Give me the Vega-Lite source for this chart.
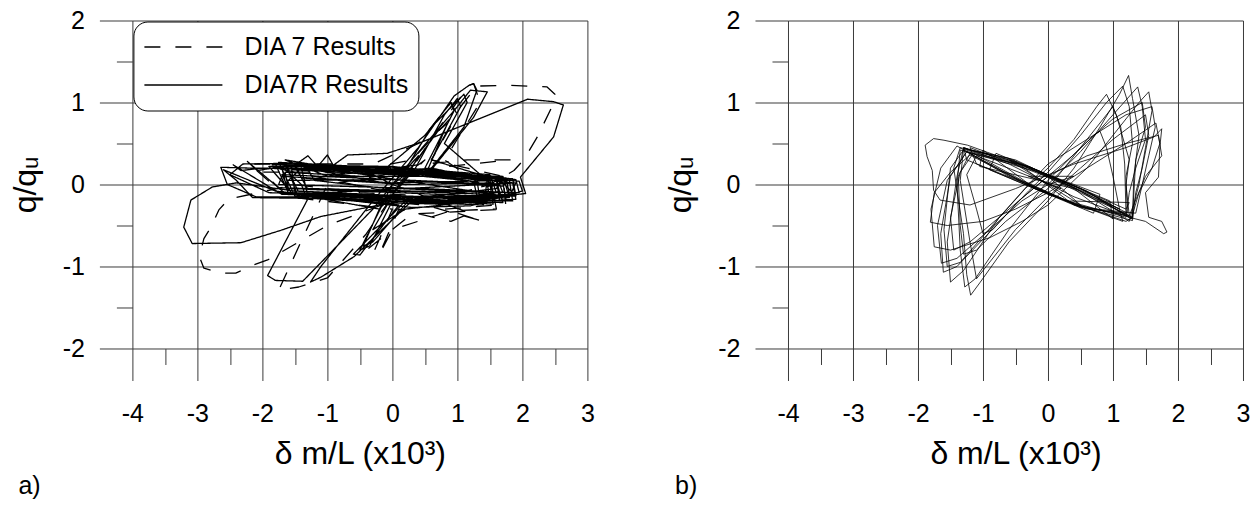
{
  "$schema": "https://vega.github.io/schema/vega-lite/v6.json",
  "background": "white",
  "padding": {"left": 9.4, "top": 8.5, "right": 0, "bottom": 0},
  "bounds": "flush",
  "spacing": 200.6,
  "config": {
    "font": "Liberation Sans",
    "view": {"stroke": null},
    "axis": {"domain": false, "gridColor": "#3a3a3a", "gridOpacity": 1, "gridWidth": 1, "tickColor": "#3a3a3a", "tickWidth": 1, "labelColor": "black", "labelFontSize": 25, "labelFont": "Liberation Sans", "titleFont": "Liberation Sans", "titleFontSize": 32, "titleFontWeight": "normal", "titleColor": "black", "labelOverlap": false, "labelFlush": false},
    "title": {"fontSize": 25, "fontWeight": "normal", "color": "black", "font": "Liberation Sans"}
  },
  "datasets": {
    "a": [
      {"s":"R","i":1,"x":0,"y":0},{"s":"R","i":2,"x":0.4,"y":0.35},{"s":"R","i":3,"x":0.2,"y":0.05},{"s":"R","i":4,"x":-0.2,"y":-0.3},{"s":"R","i":5,"x":0,"y":0},
      {"s":"R","i":6,"x":-1.35,"y":0.2},{"s":"R","i":7,"x":0.2,"y":0.12},{"s":"R","i":8,"x":1.25,"y":0.04},{"s":"R","i":9,"x":1.3,"y":-0.14},{"s":"R","i":10,"x":0.1,"y":-0.1},{"s":"R","i":11,"x":-1.3,"y":-0.06},
      {"s":"R","i":12,"x":-1.5,"y":0.22},{"s":"R","i":13,"x":0,"y":0.15},{"s":"R","i":14,"x":1.45,"y":0.05},{"s":"R","i":15,"x":1.5,"y":-0.18},{"s":"R","i":16,"x":0.2,"y":-0.14},{"s":"R","i":17,"x":-1.45,"y":-0.08},
      {"s":"R","i":18,"x":-1.65,"y":0.24},{"s":"R","i":19,"x":-0.2,"y":0.17},{"s":"R","i":20,"x":0.3,"y":0.12},{"s":"R","i":21,"x":0.8,"y":0.85},{"s":"R","i":22,"x":1.0,"y":1.05},{"s":"R","i":23,"x":1.05,"y":0.95},{"s":"R","i":24,"x":0.6,"y":0.3},{"s":"R","i":25,"x":1.6,"y":0.06},{"s":"R","i":26,"x":1.65,"y":-0.2},{"s":"R","i":27,"x":0.3,"y":-0.15},{"s":"R","i":28,"x":-0.3,"y":-0.7},{"s":"R","i":29,"x":-0.45,"y":-0.75},{"s":"R","i":30,"x":-0.2,"y":-0.3},{"s":"R","i":31,"x":-1.6,"y":-0.1},
      {"s":"R","i":32,"x":-1.8,"y":0.25},{"s":"R","i":33,"x":0.3,"y":0.14},{"s":"R","i":34,"x":1.75,"y":0.08},{"s":"R","i":35,"x":1.8,"y":-0.12},{"s":"R","i":36,"x":0.4,"y":-0.16},{"s":"R","i":37,"x":-1.7,"y":-0.12},
      {"s":"R","i":38,"x":-2.45,"y":0.24},{"s":"R","i":39,"x":-2.33,"y":0.17},{"s":"R","i":40,"x":-2.0,"y":0.2},{"s":"R","i":41,"x":0.5,"y":0.14},{"s":"R","i":42,"x":1.85,"y":0.07},{"s":"R","i":43,"x":1.9,"y":-0.14},{"s":"R","i":44,"x":0,"y":-0.15},{"s":"R","i":45,"x":-2.1,"y":-0.15},{"s":"R","i":46,"x":-2.54,"y":0},{"s":"R","i":47,"x":-2.64,"y":0.21},{"s":"R","i":48,"x":-2.2,"y":0.2},
      {"s":"R","i":49,"x":0.2,"y":0.18},{"s":"R","i":50,"x":0.6,"y":0.7},{"s":"R","i":51,"x":1.1,"y":1.1},{"s":"R","i":52,"x":1.15,"y":1.0},{"s":"R","i":53,"x":0.8,"y":0.5},{"s":"R","i":54,"x":1.5,"y":0.02},{"s":"R","i":55,"x":1.55,"y":-0.24},{"s":"R","i":56,"x":-0.1,"y":-0.16},{"s":"R","i":57,"x":-0.5,"y":-0.8},{"s":"R","i":58,"x":-0.35,"y":-0.75},{"s":"R","i":59,"x":0,"y":-0.2},{"s":"R","i":60,"x":-1.5,"y":-0.14},
      {"s":"R","i":61,"x":-1.75,"y":0.27},{"s":"R","i":62,"x":0,"y":0.2},{"s":"R","i":63,"x":1.9,"y":0.06},{"s":"R","i":64,"x":1.95,"y":-0.1},{"s":"R","i":65,"x":0.3,"y":-0.08},{"s":"R","i":66,"x":-1.75,"y":-0.04},
      {"s":"R","i":67,"x":-2.23,"y":0.28},{"s":"R","i":68,"x":-2.08,"y":0.17},{"s":"R","i":69,"x":-1.6,"y":0.23},{"s":"R","i":70,"x":0.4,"y":0.12},{"s":"R","i":71,"x":1.7,"y":0.1},{"s":"R","i":72,"x":1.8,"y":-0.16},{"s":"R","i":73,"x":0.5,"y":-0.2},{"s":"R","i":74,"x":-1.55,"y":-0.1},
      {"s":"R","i":75,"x":-1.9,"y":0.22},{"s":"R","i":76,"x":-0.1,"y":0.2},{"s":"R","i":77,"x":0.5,"y":0.6},{"s":"R","i":78,"x":0.9,"y":1.0},{"s":"R","i":79,"x":0.95,"y":0.9},{"s":"R","i":80,"x":0.5,"y":0.2},{"s":"R","i":81,"x":1.6,"y":0.04},{"s":"R","i":82,"x":1.7,"y":-0.22},{"s":"R","i":83,"x":0.2,"y":-0.2},{"s":"R","i":84,"x":-0.6,"y":-0.85},{"s":"R","i":85,"x":-0.5,"y":-0.86},{"s":"R","i":86,"x":0.1,"y":-0.25},{"s":"R","i":87,"x":-1.8,"y":-0.08},
      {"s":"R","i":88,"x":-2.6,"y":0.18},{"s":"R","i":89,"x":-2.4,"y":0.05},{"s":"R","i":90,"x":-2.15,"y":-0.16},{"s":"R","i":91,"x":-1.2,"y":-0.17},{"s":"R","i":92,"x":0.5,"y":-0.22},{"s":"R","i":93,"x":1.4,"y":-0.25},{"s":"R","i":94,"x":1.45,"y":0},{"s":"R","i":95,"x":0,"y":0.22},{"s":"R","i":96,"x":-1.85,"y":0.24},
      {"s":"R","i":97,"x":-0.9,"y":0.24},{"s":"R","i":98,"x":-0.69,"y":0.36},{"s":"R","i":99,"x":-0.08,"y":0.38},{"s":"R","i":100,"x":0.46,"y":0.52},{"s":"R","i":101,"x":2.08,"y":1.04},{"s":"R","i":102,"x":2.48,"y":1.01},{"s":"R","i":103,"x":2.63,"y":0.97},{"s":"R","i":104,"x":2.48,"y":0.58},{"s":"R","i":105,"x":2.23,"y":0.34},{"s":"R","i":106,"x":1.97,"y":0.09},{"s":"R","i":107,"x":2.05,"y":-0.11},{"s":"R","i":108,"x":1.0,"y":-0.2},{"s":"R","i":109,"x":-0.5,"y":-0.12},{"s":"R","i":110,"x":-1.5,"y":-0.08},{"s":"R","i":111,"x":-2.4,"y":0.02},{"s":"R","i":112,"x":-2.77,"y":-0.03},{"s":"R","i":113,"x":-3.1,"y":-0.19},{"s":"R","i":114,"x":-3.21,"y":-0.52},{"s":"R","i":115,"x":-3.08,"y":-0.72},{"s":"R","i":116,"x":-2.33,"y":-0.71},{"s":"R","i":117,"x":-1.72,"y":-0.56},{"s":"R","i":118,"x":-1.1,"y":-0.39},{"s":"R","i":119,"x":0,"y":-0.22},{"s":"R","i":120,"x":0.95,"y":-0.11},{"s":"R","i":121,"x":1.6,"y":-0.05},{"s":"R","i":122,"x":1.7,"y":0.08},{"s":"R","i":123,"x":0,"y":0.22},{"s":"R","i":124,"x":-1.7,"y":0.22},
      {"s":"R","i":125,"x":-1.4,"y":0},{"s":"R","i":126,"x":-1.31,"y":-0.19},{"s":"R","i":127,"x":-1.92,"y":-1.11},{"s":"R","i":128,"x":-1.8,"y":-1.17},{"s":"R","i":129,"x":-1.38,"y":-1.18},{"s":"R","i":130,"x":-1.06,"y":-0.92},{"s":"R","i":131,"x":-0.3,"y":-0.3},{"s":"R","i":132,"x":0.3,"y":0.3},{"s":"R","i":133,"x":1.0,"y":0.95},{"s":"R","i":134,"x":1.2,"y":1.15},{"s":"R","i":135,"x":1.46,"y":1.13},{"s":"R","i":136,"x":1.25,"y":0.82},{"s":"R","i":137,"x":0.59,"y":0.17},{"s":"R","i":138,"x":1.8,"y":0.05},{"s":"R","i":139,"x":1.85,"y":-0.2},{"s":"R","i":140,"x":0.3,"y":-0.2},
      {"s":"R","i":141,"x":-0.59,"y":-0.88},{"s":"R","i":142,"x":-1.1,"y":-1.13},{"s":"R","i":143,"x":-1.26,"y":-1.19},{"s":"R","i":144,"x":-1.1,"y":-1.0},{"s":"R","i":145,"x":-0.3,"y":-0.2},{"s":"R","i":146,"x":0.4,"y":0.45},{"s":"R","i":147,"x":0.95,"y":1.08},{"s":"R","i":148,"x":1.18,"y":1.21},{"s":"R","i":149,"x":1.25,"y":1.23},{"s":"R","i":150,"x":1.3,"y":1.15},{"s":"R","i":151,"x":1.1,"y":0.7},{"s":"R","i":152,"x":0.6,"y":0.2},{"s":"R","i":153,"x":1.7,"y":0.02},{"s":"R","i":154,"x":1.75,"y":-0.2},{"s":"R","i":155,"x":0,"y":-0.18},{"s":"R","i":156,"x":-1.6,"y":-0.12},
      {"s":"R","i":157,"x":-1.7,"y":0.2},{"s":"R","i":158,"x":0.3,"y":0.16},{"s":"R","i":159,"x":1.6,"y":0.1},{"s":"R","i":160,"x":1.65,"y":-0.16},{"s":"R","i":161,"x":-0.2,"y":-0.14},{"s":"R","i":162,"x":-1.5,"y":-0.1},{"s":"R","i":163,"x":-1.55,"y":0.18},{"s":"R","i":164,"x":0.5,"y":0.1},{"s":"R","i":165,"x":1.3,"y":0.06},{"s":"R","i":166,"x":1.35,"y":-0.2},{"s":"R","i":167,"x":0.2,"y":-0.3},{"s":"R","i":168,"x":-0.3,"y":-0.55},{"s":"R","i":169,"x":0.1,"y":0},{"s":"R","i":170,"x":0.7,"y":0.65},{"s":"R","i":171,"x":0.85,"y":0.75},{"s":"R","i":172,"x":0.5,"y":0.1},{"s":"R","i":173,"x":-1.0,"y":0.1},
      {"s":"R","i":174,"x":-1.65,"y":0.3},{"s":"R","i":175,"x":-1.2,"y":0.24},{"s":"R","i":176,"x":0,"y":0.16},{"s":"R","i":177,"x":1.0,"y":0.1},{"s":"R","i":178,"x":1.85,"y":0.02},{"s":"R","i":179,"x":1.9,"y":-0.18},{"s":"R","i":180,"x":1.0,"y":-0.22},{"s":"R","i":181,"x":0,"y":-0.2},{"s":"R","i":182,"x":-1.0,"y":-0.12},{"s":"R","i":183,"x":-1.9,"y":-0.1},{"s":"R","i":184,"x":-2.5,"y":0.12},{"s":"R","i":185,"x":-2.3,"y":0.25},{"s":"R","i":186,"x":-1.5,"y":0.26},{"s":"R","i":187,"x":-0.5,"y":0.22},{"s":"R","i":188,"x":0.8,"y":0.12},{"s":"R","i":189,"x":1.95,"y":0.04},{"s":"R","i":190,"x":2.0,"y":-0.08},{"s":"R","i":191,"x":1.2,"y":-0.26},{"s":"R","i":192,"x":0.3,"y":-0.28},{"s":"R","i":193,"x":-0.6,"y":-0.2},{"s":"R","i":194,"x":-1.45,"y":-0.16},{"s":"R","i":195,"x":-1.6,"y":0.18},{"s":"R","i":196,"x":-1.3,"y":0.35},{"s":"R","i":197,"x":-1.15,"y":0.22},{"s":"R","i":198,"x":-1.0,"y":0.36},{"s":"R","i":199,"x":-0.9,"y":0.22},{"s":"R","i":200,"x":0.2,"y":0.2},{"s":"R","i":201,"x":1.5,"y":0.12},{"s":"R","i":202,"x":1.6,"y":-0.1},{"s":"R","i":203,"x":0.8,"y":-0.24},{"s":"R","i":204,"x":-0.3,"y":-0.22},{"s":"R","i":205,"x":-1.3,"y":-0.14},{"s":"R","i":206,"x":-1.4,"y":0.2},
      {"s":"R","i":207,"x":-1.6,"y":0.05},{"s":"R","i":208,"x":0,"y":0.06},{"s":"R","i":209,"x":1.7,"y":-0.02},{"s":"R","i":210,"x":1.75,"y":0.05},{"s":"R","i":211,"x":0,"y":0.02},{"s":"R","i":212,"x":-1.7,"y":0.1},{"s":"R","i":213,"x":-1.75,"y":0},{"s":"R","i":214,"x":0.5,"y":-0.05},{"s":"R","i":215,"x":1.85,"y":-0.1},{"s":"R","i":216,"x":1.6,"y":0.1},{"s":"R","i":217,"x":-0.5,"y":0.1},{"s":"R","i":218,"x":-1.65,"y":0.15},{"s":"R","i":219,"x":-1.6,"y":-0.05},{"s":"R","i":220,"x":0,"y":-0.08},{"s":"R","i":221,"x":1.5,"y":-0.12},{"s":"R","i":222,"x":1.55,"y":0.02},{"s":"R","i":223,"x":0.2,"y":0},{"s":"R","i":224,"x":-1.4,"y":0.08},{"s":"R","i":225,"x":-1.5,"y":0.25},{"s":"R","i":226,"x":1.8,"y":-0.15},{"s":"R","i":227,"x":1.9,"y":0.02},{"s":"R","i":228,"x":-1.55,"y":-0.12},{"s":"R","i":229,"x":-1.7,"y":0.12},{"s":"R","i":230,"x":0.6,"y":0.04},{"s":"R","i":231,"x":1.65,"y":0},{"s":"R","i":232,"x":1.7,"y":-0.1},{"s":"R","i":233,"x":-0.2,"y":-0.04},{"s":"R","i":234,"x":-1.2,"y":0.05},{"s":"R","i":235,"x":-1.3,"y":0.18},{"s":"R","i":236,"x":-0.3,"y":0.12},{"s":"R","i":237,"x":0,"y":0},
      {"s":"D","i":1,"x":0,"y":0},{"s":"D","i":2,"x":0.5,"y":0.3},{"s":"D","i":3,"x":0,"y":-0.1},{"s":"D","i":4,"x":-1.5,"y":0.15},{"s":"D","i":5,"x":-1.9,"y":0.22},{"s":"D","i":6,"x":0,"y":0.2},{"s":"D","i":7,"x":1.5,"y":0.05},{"s":"D","i":8,"x":1.6,"y":-0.25},{"s":"D","i":9,"x":0.8,"y":-0.3},{"s":"D","i":10,"x":1.4,"y":-0.45},
      {"s":"D","i":11,"x":0.5,"y":-0.25},{"s":"D","i":12,"x":-1.7,"y":-0.1},{"s":"D","i":13,"x":-2.2,"y":0.25},{"s":"D","i":14,"x":-0.3,"y":0.25},{"s":"D","i":15,"x":0.4,"y":0.5},{"s":"D","i":16,"x":0.9,"y":1.0},{"s":"D","i":17,"x":1.0,"y":0.85},{"s":"D","i":18,"x":0.6,"y":0.3},{"s":"D","i":19,"x":1.7,"y":0.1},{"s":"D","i":20,"x":1.75,"y":-0.3},
      {"s":"D","i":21,"x":0.3,"y":-0.36},{"s":"D","i":22,"x":-0.4,"y":-0.8},{"s":"D","i":23,"x":-0.3,"y":-0.85},{"s":"D","i":24,"x":0,"y":-0.3},{"s":"D","i":25,"x":-1.6,"y":-0.15},{"s":"D","i":26,"x":-2.0,"y":0.15},{"s":"D","i":27,"x":0,"y":0.15},{"s":"D","i":28,"x":1.82,"y":0.3},{"s":"D","i":29,"x":1.15,"y":0.3},{"s":"D","i":30,"x":0.5,"y":0.25},
      {"s":"D","i":31,"x":-1.0,"y":0.1},{"s":"D","i":32,"x":0.3,"y":0.3},{"s":"D","i":33,"x":1.0,"y":0.9},{"s":"D","i":34,"x":1.3,"y":1.2},{"s":"D","i":35,"x":1.8,"y":1.21},{"s":"D","i":36,"x":2.38,"y":1.19},{"s":"D","i":37,"x":2.5,"y":1.1},{"s":"D","i":38,"x":2.48,"y":0.99},{"s":"D","i":39,"x":2.23,"y":0.58},{"s":"D","i":40,"x":2.02,"y":0.3},
      {"s":"D","i":41,"x":1.87,"y":0.17},{"s":"D","i":42,"x":1.5,"y":0},{"s":"D","i":43,"x":0.8,"y":-0.15},{"s":"D","i":44,"x":-0.5,"y":-0.1},{"s":"D","i":45,"x":-1.5,"y":0},{"s":"D","i":46,"x":-2.52,"y":-0.18},{"s":"D","i":47,"x":-2.67,"y":-0.31},{"s":"D","i":48,"x":-2.79,"y":-0.52},{"s":"D","i":49,"x":-2.9,"y":-0.66},{"s":"D","i":50,"x":-2.97,"y":-0.88},
      {"s":"D","i":51,"x":-2.9,"y":-1.02},{"s":"D","i":52,"x":-2.64,"y":-1.08},{"s":"D","i":53,"x":-2.41,"y":-1.08},{"s":"D","i":54,"x":-2.13,"y":-0.98},{"s":"D","i":55,"x":-1.92,"y":-0.92},{"s":"D","i":56,"x":-1.0,"y":-0.5},{"s":"D","i":57,"x":0,"y":-0.2},{"s":"D","i":58,"x":1.0,"y":-0.1},{"s":"D","i":59,"x":1.6,"y":0},{"s":"D","i":60,"x":0.5,"y":0.2},
      {"s":"D","i":61,"x":-1.0,"y":0},{"s":"D","i":62,"x":-1.75,"y":-1.29},{"s":"D","i":63,"x":-1.44,"y":-1.25},{"s":"D","i":64,"x":-1.0,"y":-1.14},{"s":"D","i":65,"x":-0.4,"y":-0.6},{"s":"D","i":66,"x":0.3,"y":0.2},{"s":"D","i":67,"x":0.9,"y":0.9},{"s":"D","i":68,"x":1.18,"y":1.21},{"s":"D","i":69,"x":1.25,"y":1.23},{"s":"D","i":70,"x":1.35,"y":1.0},
      {"s":"D","i":71,"x":0.8,"y":0.3},{"s":"D","i":72,"x":1.55,"y":-0.1},{"s":"D","i":73,"x":1.6,"y":-0.3},{"s":"D","i":74,"x":0.9,"y":-0.32},{"s":"D","i":75,"x":0,"y":-0.55},{"s":"D","i":76,"x":-0.2,"y":-0.85},{"s":"D","i":77,"x":0.1,"y":-0.3},{"s":"D","i":78,"x":0.9,"y":-0.45},{"s":"D","i":79,"x":1.2,"y":-0.35},{"s":"D","i":80,"x":0,"y":0}
    ],
    "b": [
      {"i":1,"x":0,"y":0},{"i":2,"x":0.4,"y":0.1},{"i":3,"x":-0.3,"y":0.1},{"i":4,"x":0.2,"y":-0.05},
      {"i":5,"x":-1.1,"y":0.35},{"i":6,"x":-1.25,"y":0.12},{"i":7,"x":-1.1,"y":-0.3},{"i":8,"x":-1.0,"y":-0.6},{"i":9,"x":-0.85,"y":-0.55},{"i":10,"x":-0.45,"y":-0.2},{"i":11,"x":0,"y":0.1},{"i":12,"x":0.45,"y":0.4},{"i":13,"x":0.7,"y":0.6},{"i":14,"x":0.8,"y":0.65},{"i":15,"x":0.9,"y":0.45},{"i":16,"x":1.0,"y":0.1},{"i":17,"x":1.1,"y":-0.3},{"i":18,"x":0.5,"y":-0.05},{"i":19,"x":-0.3,"y":0.22},
      {"i":20,"x":-1.2,"y":0.38},{"i":21,"x":-1.38,"y":0.1},{"i":22,"x":-1.35,"y":-0.5},{"i":23,"x":-1.3,"y":-0.85},{"i":24,"x":-1.1,"y":-0.8},{"i":25,"x":-0.65,"y":-0.45},{"i":26,"x":0,"y":-0.05},{"i":27,"x":0.45,"y":0.4},{"i":28,"x":0.8,"y":0.75},{"i":29,"x":1.0,"y":0.95},{"i":30,"x":1.12,"y":0.7},{"i":31,"x":1.18,"y":0.25},{"i":32,"x":1.2,"y":-0.35},{"i":33,"x":0.6,"y":-0.3},{"i":34,"x":-0.2,"y":-0.05},
      {"i":35,"x":-1.3,"y":0.42},{"i":36,"x":-1.5,"y":0.2},{"i":37,"x":-1.6,"y":-0.55},{"i":38,"x":-1.55,"y":-1.0},{"i":39,"x":-1.35,"y":-0.95},{"i":40,"x":-0.8,"y":-0.45},{"i":41,"x":-0.35,"y":-0.05},{"i":42,"x":0,"y":0.2},{"i":43,"x":0.4,"y":0.55},{"i":44,"x":0.75,"y":0.95},{"i":45,"x":0.9,"y":1.1},{"i":46,"x":1.05,"y":0.85},{"i":47,"x":1.25,"y":0.3},{"i":48,"x":1.2,"y":0},{"i":49,"x":1.25,"y":-0.38},{"i":50,"x":0.4,"y":-0.25},{"i":51,"x":-0.5,"y":0.28},
      {"i":52,"x":-1.35,"y":0.45},{"i":53,"x":-1.45,"y":0.2},{"i":54,"x":-1.3,"y":-0.6},{"i":55,"x":-1.25,"y":-1.1},{"i":56,"x":-1.19,"y":-1.35},{"i":57,"x":-1.05,"y":-1.2},{"i":58,"x":-0.6,"y":-0.7},{"i":59,"x":0,"y":-0.2},{"i":60,"x":0.4,"y":0.2},{"i":61,"x":0.8,"y":0.7},{"i":62,"x":1.1,"y":1.1},{"i":63,"x":1.24,"y":1.33},{"i":64,"x":1.3,"y":1.05},{"i":65,"x":1.4,"y":0.6},{"i":66,"x":1.32,"y":0.1},{"i":67,"x":1.3,"y":-0.42},{"i":68,"x":0.7,"y":-0.14},{"i":69,"x":-0.1,"y":0.14},
      {"i":70,"x":-1.25,"y":0.4},{"i":71,"x":-1.55,"y":0.05},{"i":72,"x":-1.7,"y":-0.5},{"i":73,"x":-1.64,"y":-0.96},{"i":74,"x":-1.4,"y":-0.9},{"i":75,"x":-0.9,"y":-0.55},{"i":76,"x":-0.4,"y":-0.2},{"i":77,"x":0,"y":0},{"i":78,"x":0.5,"y":0.4},{"i":79,"x":1.0,"y":0.85},{"i":80,"x":1.38,"y":1.19},{"i":81,"x":1.45,"y":0.95},{"i":82,"x":1.5,"y":0.55},{"i":83,"x":1.35,"y":0.2},{"i":84,"x":1.25,"y":-0.1},{"i":85,"x":1.2,"y":-0.4},{"i":86,"x":0.3,"y":-0.2},{"i":87,"x":-0.6,"y":0.1},
      {"i":88,"x":-1.4,"y":0.47},{"i":89,"x":-1.65,"y":0.2},{"i":90,"x":-1.8,"y":-0.3},{"i":91,"x":-1.75,"y":-0.76},{"i":92,"x":-1.5,"y":-0.8},{"i":93,"x":-0.9,"y":-0.65},{"i":94,"x":-0.4,"y":-0.45},{"i":95,"x":0,"y":-0.25},{"i":96,"x":0.6,"y":0.2},{"i":97,"x":1.1,"y":0.7},{"i":98,"x":1.4,"y":1.0},{"i":99,"x":1.55,"y":1.13},{"i":100,"x":1.6,"y":0.9},{"i":101,"x":1.5,"y":0.45},{"i":102,"x":1.4,"y":0},{"i":103,"x":1.25,"y":-0.45},{"i":104,"x":0.5,"y":-0.08},{"i":105,"x":-0.5,"y":0.3},
      {"i":106,"x":-1.3,"y":0.44},{"i":107,"x":-1.4,"y":0.1},{"i":108,"x":-1.55,"y":-0.7},{"i":109,"x":-1.5,"y":-1.19},{"i":110,"x":-1.3,"y":-1.05},{"i":111,"x":-0.75,"y":-0.4},{"i":112,"x":-0.3,"y":0},{"i":113,"x":0,"y":0.25},{"i":114,"x":0.6,"y":0.55},{"i":115,"x":1.2,"y":0.85},{"i":116,"x":1.6,"y":0.95},{"i":117,"x":1.65,"y":0.7},{"i":118,"x":1.55,"y":0.35},{"i":119,"x":1.45,"y":0},{"i":120,"x":1.35,"y":-0.35},{"i":121,"x":0.5,"y":-0.28},{"i":122,"x":-0.4,"y":0.03},
      {"i":123,"x":-1.2,"y":0.36},{"i":124,"x":-1.5,"y":0.15},{"i":125,"x":-1.75,"y":-0.1},{"i":126,"x":-1.81,"y":-0.46},{"i":127,"x":-1.55,"y":-0.5},{"i":128,"x":-1.0,"y":-0.45},{"i":129,"x":-0.5,"y":-0.3},{"i":130,"x":0,"y":-0.1},{"i":131,"x":0.6,"y":0.2},{"i":132,"x":1.2,"y":0.5},{"i":133,"x":1.66,"y":0.75},{"i":134,"x":1.72,"y":0.5},{"i":135,"x":1.6,"y":0.2},{"i":136,"x":1.4,"y":-0.1},{"i":137,"x":1.28,"y":-0.42},{"i":138,"x":0.6,"y":-0.08},{"i":139,"x":-0.3,"y":0.22},
      {"i":140,"x":-1.35,"y":0.42},{"i":141,"x":-1.4,"y":0},{"i":142,"x":-1.35,"y":-0.8},{"i":143,"x":-1.28,"y":-1.25},{"i":144,"x":-1.12,"y":-1.15},{"i":145,"x":-0.6,"y":-0.55},{"i":146,"x":0,"y":0.05},{"i":147,"x":0.5,"y":0.45},{"i":148,"x":1.0,"y":0.8},{"i":149,"x":1.45,"y":1.0},{"i":150,"x":1.5,"y":0.7},{"i":151,"x":1.35,"y":0.3},{"i":152,"x":1.3,"y":-0.4},{"i":153,"x":0.4,"y":-0.24},{"i":154,"x":-0.5,"y":0.08},
      {"i":155,"x":-1.25,"y":0.4},{"i":156,"x":-1.5,"y":0.1},{"i":157,"x":-1.65,"y":-0.6},{"i":158,"x":-1.61,"y":-1.07},{"i":159,"x":-1.4,"y":-1.0},{"i":160,"x":-0.8,"y":-0.5},{"i":161,"x":-0.3,"y":-0.08},{"i":162,"x":0,"y":0.15},{"i":163,"x":0.5,"y":0.6},{"i":164,"x":0.9,"y":1.0},{"i":165,"x":1.15,"y":1.2},{"i":166,"x":1.25,"y":0.95},{"i":167,"x":1.3,"y":0.5},{"i":168,"x":1.2,"y":0.1},{"i":169,"x":1.22,"y":-0.35},{"i":170,"x":0.5,"y":-0.05},{"i":171,"x":-0.3,"y":0.2},
      {"i":172,"x":-1.3,"y":0.43},{"i":173,"x":-1.35,"y":0.05},{"i":174,"x":-1.2,"y":-0.7},{"i":175,"x":-1.1,"y":-1.15},{"i":176,"x":-0.95,"y":-1.0},{"i":177,"x":-0.5,"y":-0.55},{"i":178,"x":0,"y":-0.15},{"i":179,"x":0.5,"y":0.2},{"i":180,"x":1.0,"y":0.55},{"i":181,"x":1.5,"y":0.85},{"i":182,"x":1.55,"y":0.6},{"i":183,"x":1.45,"y":0.2},{"i":184,"x":1.35,"y":-0.1},{"i":185,"x":1.3,"y":-0.44},{"i":186,"x":0.5,"y":-0.27},{"i":187,"x":-0.4,"y":0.05},
      {"i":188,"x":-1.15,"y":0.38},{"i":189,"x":-1.35,"y":0.15},{"i":190,"x":-1.5,"y":-0.4},{"i":191,"x":-1.45,"y":-0.8},{"i":192,"x":-1.2,"y":-0.7},{"i":193,"x":-0.6,"y":-0.3},{"i":194,"x":0,"y":0.1},{"i":195,"x":0.6,"y":0.35},{"i":196,"x":1.2,"y":0.5},{"i":197,"x":1.7,"y":0.6},{"i":198,"x":1.75,"y":0.35},{"i":199,"x":1.5,"y":0.1},{"i":200,"x":1.25,"y":-0.38},{"i":201,"x":0.4,"y":-0.04},{"i":202,"x":-0.5,"y":0.27},
      {"i":203,"x":-1.24,"y":0.48},{"i":204,"x":-1.6,"y":0.54},{"i":205,"x":-1.76,"y":0.56},{"i":206,"x":-1.89,"y":0.48},{"i":207,"x":-1.86,"y":0.34},{"i":208,"x":-1.78,"y":0.17},{"i":209,"x":-1.76,"y":-0.07},{"i":210,"x":-1.66,"y":-0.19},{"i":211,"x":-1.2,"y":-0.25},{"i":212,"x":-0.5,"y":-0.05},{"i":213,"x":0.4,"y":0.25},{"i":214,"x":1.2,"y":0.45},{"i":215,"x":1.63,"y":0.58},{"i":216,"x":1.75,"y":0.68},{"i":217,"x":1.72,"y":0.45},{"i":218,"x":1.7,"y":0.09},{"i":219,"x":1.5,"y":-0.1},{"i":220,"x":1.55,"y":-0.4},{"i":221,"x":1.75,"y":-0.45},{"i":222,"x":1.83,"y":-0.58},{"i":223,"x":1.78,"y":-0.6},{"i":224,"x":1.5,"y":-0.45},{"i":225,"x":1.25,"y":-0.4},{"i":226,"x":0.4,"y":-0.15},{"i":227,"x":-0.6,"y":0.25},{"i":228,"x":-1.3,"y":0.45},
      {"i":229,"x":-1.2,"y":0.42},{"i":230,"x":-0.6,"y":0.32},{"i":231,"x":0.2,"y":0.05},{"i":232,"x":1.2,"y":-0.3},{"i":233,"x":1.25,"y":-0.22},{"i":234,"x":0.3,"y":-0.2},{"i":235,"x":-0.5,"y":0.06},{"i":236,"x":-1.25,"y":0.3},{"i":237,"x":-1.3,"y":0.45},{"i":238,"x":-0.4,"y":0.24},{"i":239,"x":0.5,"y":-0.1},{"i":240,"x":1.3,"y":-0.4},{"i":241,"x":1.2,"y":-0.45},{"i":242,"x":0,"y":-0.12},{"i":243,"x":-1.1,"y":0.25},{"i":244,"x":-1.2,"y":0.45},{"i":245,"x":0.1,"y":0.06},{"i":246,"x":1.1,"y":-0.3},{"i":247,"x":1.15,"y":-0.45},{"i":248,"x":-0.2,"y":-0.05},{"i":249,"x":-1.0,"y":0.42},{"i":250,"x":-1.05,"y":0.22},{"i":251,"x":0.4,"y":-0.05},{"i":252,"x":1.0,"y":-0.42},{"i":253,"x":0.95,"y":-0.2},{"i":254,"x":-0.8,"y":0.38},{"i":255,"x":-0.9,"y":0.18},{"i":256,"x":0.7,"y":-0.35},{"i":257,"x":0.8,"y":-0.12},{"i":258,"x":-0.6,"y":0.3},{"i":259,"x":0.5,"y":-0.25},{"i":260,"x":0,"y":0.1}
    ]
  },
  "hconcat": [
    {
      "width": 455,
      "height": 328,
      "title": {"text": "a)", "orient": "bottom", "anchor": "start", "frame": "group", "dx": -114, "offset": 5},
      "layer": [
        {
          "data": {"name": "a"},
          "mark": {"type": "line", "color": "black", "strokeWidth": 1.3, "strokeJoin": "round"},
          "encoding": {
            "x": {"field": "x", "type": "quantitative", "scale": {"domain": [-4, 3], "nice": false, "zero": false},
              "axis": {"orient": "bottom", "values": [-4, -3, -2, -1, 0, 1, 2, 3], "tickSize": 32, "grid": true, "labelPadding": 21, "labelExpr": "'' + datum.value", "title": "δ m/L (x10³)", "titleY": 114.6, "titleBaseline": "alphabetic"}},
            "y": {"field": "y", "type": "quantitative", "scale": {"domain": [-2, 2], "nice": false, "zero": false},
              "axis": {"orient": "left", "values": [-2, -1, 0, 1, 2], "tickSize": 33, "grid": true, "labelPadding": 15, "labelExpr": "'' + datum.value", "title": "q/qᵤ", "titleX": -97, "titleBaseline": "alphabetic"}},
            "strokeDash": {"field": "s", "type": "nominal", "scale": {"domain": ["D", "R"], "range": [[16, 15], [1, 0]]},
              "legend": {"title": null, "orient": "none", "legendX": 1, "legendY": 1, "strokeColor": "black", "cornerRadius": 14, "fillColor": "white", "padding": 10, "labelFontSize": 25, "labelFont": "Liberation Sans", "labelColor": "black", "symbolType": "stroke", "symbolSize": 6084, "symbolStrokeWidth": 1.3, "symbolStrokeColor": "black", "clipHeight": 31, "rowPadding": 7, "labelOffset": 21, "labelLimit": 400, "labelExpr": "datum.value === 'D' ? 'DIA 7 Results' : 'DIA7R Results'"}},
            "order": {"field": "i", "type": "quantitative"}
          }
        },
        {
          "data": {"name": "a"},
          "mark": {"type": "line", "strokeOpacity": 0},
          "encoding": {
            "x": {"field": "x", "type": "quantitative", "axis": {"orient": "bottom", "values": [-3.5, -2.5, -1.5, -0.5, 0.5, 1.5, 2.5], "tickSize": 16, "grid": false, "labels": false, "title": null}},
            "y": {"field": "y", "type": "quantitative", "axis": {"orient": "left", "values": [-1.5, -0.5, 0.5, 1.5], "tickSize": 16, "grid": false, "labels": false, "title": null}},
            "order": {"field": "i", "type": "quantitative"}
          }
        }
      ],
      "resolve": {"axis": {"x": "independent", "y": "independent"}}
    },
    {
      "width": 455,
      "height": 328,
      "title": {"text": "b)", "orient": "bottom", "anchor": "start", "frame": "group", "dx": -113, "offset": 5},
      "layer": [
        {
          "data": {"name": "b"},
          "mark": {"type": "line", "color": "black", "strokeWidth": 0.8, "strokeJoin": "round"},
          "encoding": {
            "x": {"field": "x", "type": "quantitative", "scale": {"domain": [-4, 3], "nice": false, "zero": false},
              "axis": {"orient": "bottom", "values": [-4, -3, -2, -1, 0, 1, 2, 3], "tickSize": 32, "grid": true, "labelPadding": 21, "labelExpr": "'' + datum.value", "title": "δ m/L (x10³)", "titleY": 114.6, "titleBaseline": "alphabetic"}},
            "y": {"field": "y", "type": "quantitative", "scale": {"domain": [-2, 2], "nice": false, "zero": false},
              "axis": {"orient": "left", "values": [-2, -1, 0, 1, 2], "tickSize": 33, "grid": true, "labelPadding": 15, "labelExpr": "'' + datum.value", "title": "q/qᵤ", "titleX": -97, "titleBaseline": "alphabetic"}},
            "order": {"field": "i", "type": "quantitative"}
          }
        },
        {
          "data": {"name": "b"},
          "mark": {"type": "line", "strokeOpacity": 0},
          "encoding": {
            "x": {"field": "x", "type": "quantitative", "axis": {"orient": "bottom", "values": [-3.5, -2.5, -1.5, -0.5, 0.5, 1.5, 2.5], "tickSize": 16, "grid": false, "labels": false, "title": null}},
            "y": {"field": "y", "type": "quantitative", "axis": {"orient": "left", "values": [-1.5, -0.5, 0.5, 1.5], "tickSize": 16, "grid": false, "labels": false, "title": null}},
            "order": {"field": "i", "type": "quantitative"}
          }
        }
      ],
      "resolve": {"axis": {"x": "independent", "y": "independent"}}
    }
  ]
}
